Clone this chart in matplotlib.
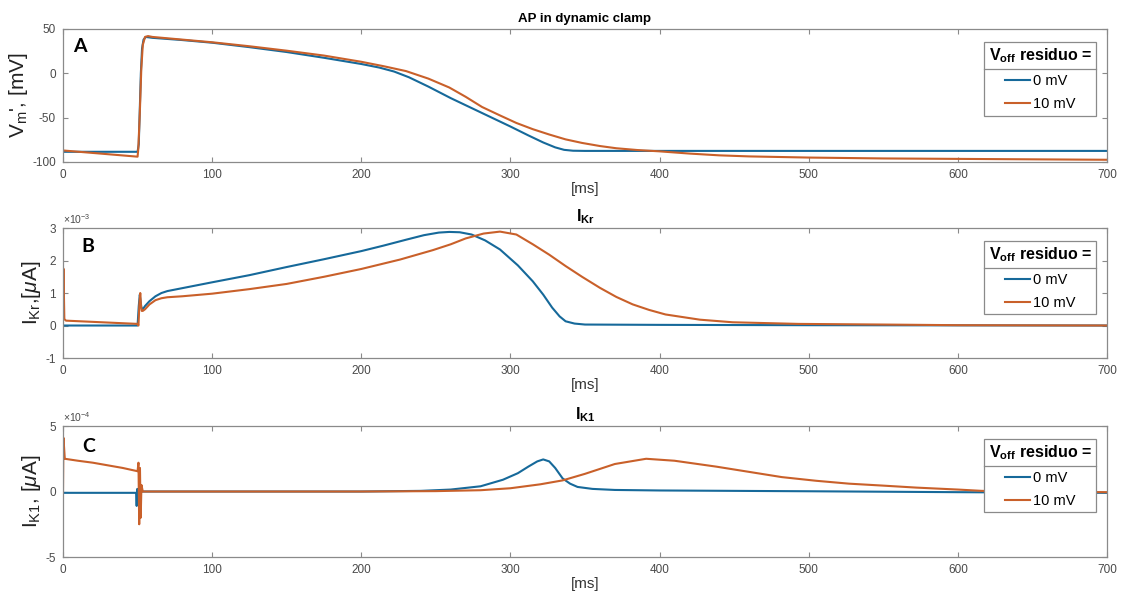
import matplotlib.pyplot as plt
import numpy as np
from matplotlib.lines import Line2D
from matplotlib.ticker import FuncFormatter

plt.rcParams["font.family"] = ["Liberation Sans", "DejaVu Sans"]
plt.rcParams["mathtext.fontset"] = "custom"
plt.rcParams["mathtext.rm"] = "Liberation Sans"
plt.rcParams["mathtext.it"] = "Liberation Sans:italic"
plt.rcParams["mathtext.bf"] = "Liberation Sans:bold"
plt.rcParams["axes.unicode_minus"] = False

# colori delle due curve
c_blue = "#16699a"
c_orange = "#c9602a"
c_axis = "#8a8a8a"
c_tick = "#4a4a4a"

series_labels = ["0 mV", "10 mV"]
x_ticks = [0, 100, 200, 300, 400, 500, 600, 700]

# --- A: potenziale di membrana [mV]
t_vm_0 = [0, 50, 50.8, 51.5, 52.2, 53, 54, 55.5, 60, 80, 100, 125, 150, 175, 200,
          212, 222, 232, 245, 260, 275, 290, 300, 312, 322, 330, 336, 342, 350, 400,
          500, 600, 700]
vm_0 = [-88.5, -88.5, -80, -40, 0, 28, 38, 41, 40, 37.5, 34.5, 29.5, 24, 17.5, 10.5,
        6.5, 2, -4.5, -15, -28, -40, -52, -60, -70, -78, -83.5, -86.3, -87.3, -87.5, -87.5,
        -87.5, -87.5, -87.5]
t_vm_10 = [0, 50, 50.5, 51.5, 52.5, 53.5, 55, 57, 60, 80, 100, 125, 150, 175, 200,
           215, 230, 245, 259, 270, 281, 293, 304, 315, 326, 337, 348, 360, 371, 385,
           400, 420, 440, 460, 500, 550, 600, 650, 700]
vm_10 = [-87, -94, -85, -45, 5, 32, 41, 42, 41, 38, 35, 30.5, 25.5, 20, 13,
         8, 2.5, -6, -16, -26.5, -38, -47.5, -56, -63, -69, -74.5, -78.5, -82, -84.5, -86.5,
         -88, -90.5, -92.5, -93.7, -95, -96, -96.5, -97, -97.5]

# --- B: I_Kr [1e-3 uA]
t_ikr_0 = [0, 50, 50.8, 51.5, 52, 52.6, 53.5, 55, 58, 62, 66, 70, 80, 100, 125, 150,
           175, 200, 215, 230, 242, 252, 259, 266, 274, 283, 293, 305, 315, 322, 328,
           333, 337, 343, 350, 400, 500, 700]
ikr_0 = [0, 0, 0.6, 0.95, 0.75, 0.55, 0.5, 0.6, 0.75, 0.9, 1.0, 1.06, 1.15, 1.33, 1.55,
         1.8, 2.04, 2.29, 2.46, 2.64, 2.78, 2.86, 2.88, 2.87, 2.8, 2.62, 2.34, 1.85, 1.36,
         0.95, 0.55, 0.28, 0.13, 0.06, 0.03, 0.02, 0.01, 0.0]
t_ikr_10 = [0, 0.3, 0.9, 2, 50, 50.6, 51.2, 51.8, 52.3, 52.8, 53.5, 55, 58, 62, 66, 70,
            80, 100, 125, 150, 175, 200, 226, 248, 260, 270, 282, 293, 304, 315, 326,
            337, 348, 360, 371, 382, 393, 404, 427, 449, 493, 550, 600, 700]
ikr_10 = [0.1, 1.75, 0.2, 0.15, 0.05, 0.0, 0.65, 1.0, 0.6, 0.45, 0.45, 0.5, 0.65, 0.78,
          0.84, 0.87, 0.9, 0.98, 1.12, 1.28, 1.5, 1.74, 2.03, 2.32, 2.5, 2.68, 2.83, 2.89,
          2.8, 2.5, 2.18, 1.83, 1.5, 1.16, 0.88, 0.65, 0.48, 0.34, 0.18, 0.1, 0.05, 0.03,
          0.01, 0.0]

# --- C: I_K1 [1e-4 uA]
t_ik1_0 = [0, 49, 49.4, 49.8, 50.5, 51, 52, 100, 200, 240, 260, 280, 295, 305, 312, 318,
           322, 326, 330, 335, 340, 345, 355, 370, 400, 450, 500, 600, 650, 700]
ik1_0 = [-0.1, -0.1, -1.1, 0.2, -0.3, 0.0, 0.0, 0.0, 0.0, 0.05, 0.15, 0.4, 0.9, 1.4, 1.9,
         2.3, 2.45, 2.3, 1.8, 1.0, 0.6, 0.35, 0.2, 0.12, 0.08, 0.05, 0.02, -0.05, -0.08, -0.1]
t_ik1_10 = [0, 0.3, 1.2, 10, 20, 30, 40, 50, 50.6, 51.1, 51.6, 52.1, 52.6, 53.5, 100, 200,
            250, 280, 300, 320, 335, 350, 370, 391, 410, 438, 460, 482, 505, 527, 550, 572,
            600, 616, 650, 700]
ik1_10 = [0, 4.1, 2.5, 2.35, 2.2, 2.0, 1.8, 1.55, 2.2, -2.5, 1.8, -2.0, 0.5, 0.0, 0.0, 0.0,
          0.03, 0.1, 0.25, 0.55, 0.85, 1.35, 2.1, 2.5, 2.35, 1.9, 1.5, 1.1, 0.82, 0.6, 0.45,
          0.3, 0.15, 0.05, 0.0, -0.05]

fig = plt.figure(figsize=(11.21, 5.96), dpi=100)
ax_a = fig.add_axes([0.0562, 0.7282, 0.9313, 0.2232])
ax_b = fig.add_axes([0.0562, 0.3993, 0.9313, 0.2181])
ax_c = fig.add_axes([0.0562, 0.0654, 0.9313, 0.2198])

panels = [
    (ax_a, t_vm_0, vm_0, t_vm_10, vm_10, 1.0, None, (-100, 50), [-100, -50, 0, 50],
     "AP in dynamic clamp", 9.5, "V$_\\mathregular{m}$', [mV]", "A", (0.010, 0.935)),
    (ax_b, t_ikr_0, ikr_0, t_ikr_10, ikr_10, 1e-3, -3, (-1e-3, 3e-3),
     [-1e-3, 0, 1e-3, 2e-3, 3e-3], "$\\mathbf{I_{Kr}}$", 11.5,
     "I$_\\mathregular{Kr}$,[$\\mathit{\\mu}$A]", "B", (0.018, 0.925)),
    (ax_c, t_ik1_0, ik1_0, t_ik1_10, ik1_10, 1e-4, -4, (-5e-4, 5e-4), [-5e-4, 0, 5e-4],
     "$\\mathbf{I_{K1}}$", 11.5, "I$_\\mathregular{K1}$, [$\\mathit{\\mu}$A]", "C",
     (0.018, 0.91)),
]

legends = []
for (ax, t0, y0, t10, y10, scale, expo, ylim, yticks, title, tsize, ylabel, letter,
     lpos) in panels:
    ax.plot(t0, np.array(y0) * scale, color=c_blue, lw=1.5, label=series_labels[0])
    ax.plot(t10, np.array(y10) * scale, color=c_orange, lw=1.5, label=series_labels[1])
    ax.set_xlim(0, 700)
    ax.set_ylim(*ylim)
    ax.set_xticks(x_ticks)
    ax.set_yticks(yticks)
    ax.yaxis.set_major_formatter(FuncFormatter(lambda v, p, s=scale: f"{v / s:.0f}"))
    if expo is not None:
        ax.text(0, 1.015, "×10$^{\\mathregular{%d}}$" % expo, transform=ax.transAxes,
                fontsize=7.5, color=c_tick, ha="left", va="bottom")
    ax.tick_params(direction="in", top=True, right=True, length=3.5, width=0.8,
                   color=c_axis, labelcolor=c_tick, labelsize=8.5, pad=5)
    for sp in ax.spines.values():
        sp.set_color(c_axis)
        sp.set_linewidth(0.9)
    ax.set_title(title, fontsize=tsize, fontweight="bold", pad=5)
    ax.set_xlabel("[ms]", fontsize=11, color="#333333", labelpad=1)
    ax.set_ylabel(ylabel, fontsize=15, color="#222222", labelpad=2)
    ax.text(lpos[0], lpos[1], letter, transform=ax.transAxes, fontsize=14,
            fontweight="bold", family="Lato", va="top", ha="left")
    leg = ax.legend(loc="upper right", bbox_to_anchor=(0.9895, 0.902), borderaxespad=0,
                    fancybox=False, edgecolor=c_axis, framealpha=1, fontsize=10.5,
                    title="$\\mathbf{V_{off}}$ residuo =",
                    title_fontproperties={"weight": "bold", "size": 11.5},
                    handlelength=1.7, handletextpad=0.2, labelspacing=0.62, borderpad=0.3)
    leg.get_frame().set_linewidth(0.9)
    legends.append(leg)

# linea di separazione sotto il titolo della legenda
fig.canvas.draw()
inv = fig.transFigure.inverted()
for leg in legends:
    fb = leg.get_frame().get_window_extent()
    tb = leg.get_title().get_window_extent()
    ysep = tb.y0 - 4
    p0 = inv.transform((fb.x0, ysep))
    p1 = inv.transform((fb.x1, ysep))
    fig.add_artist(Line2D([p0[0], p1[0]], [p0[1], p1[1]], transform=fig.transFigure,
                          color=c_axis, lw=0.9))

fig.savefig("out.png", dpi=100)
